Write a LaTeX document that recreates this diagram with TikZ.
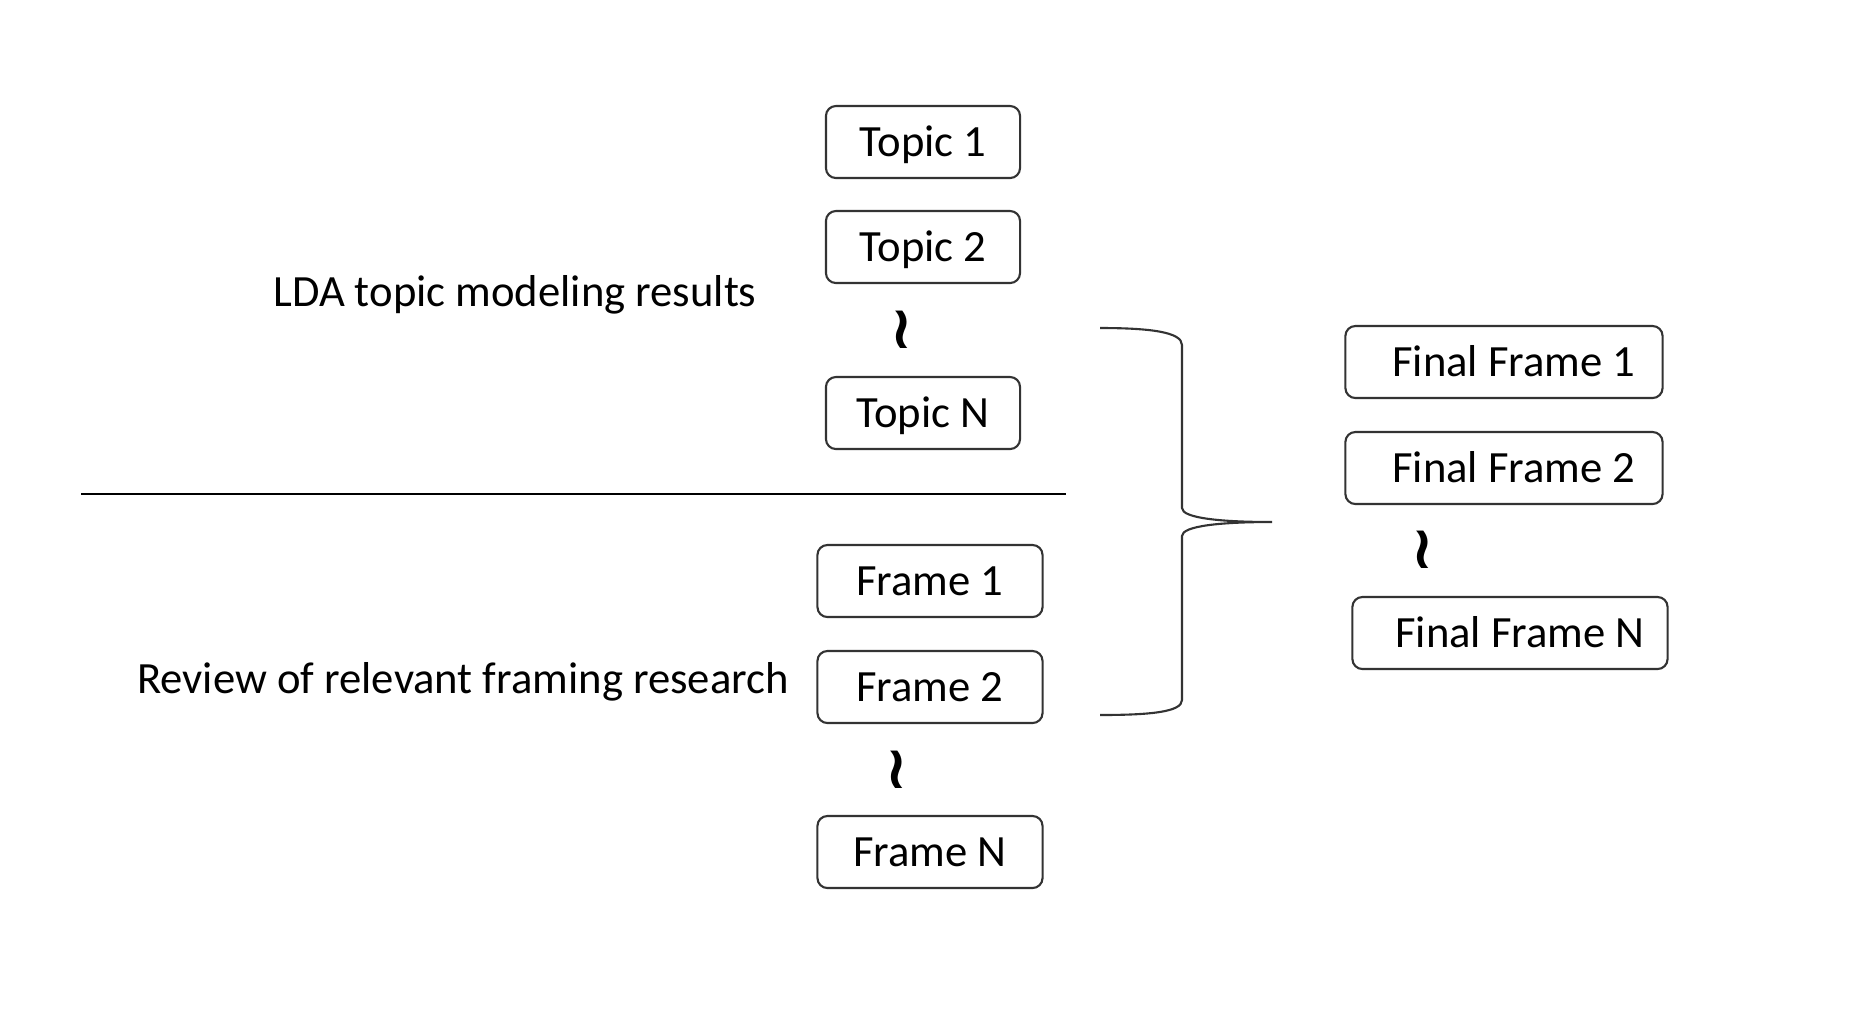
\documentclass[tikz,border=0pt]{standalone}
\usepackage{fontspec}
\setmainfont{Carlito}
\newfontfamily\symfont{DejaVu Sans}
\usepackage{tikz}
\definecolor{boxgray}{rgb}{.2,.2,.2}

\tikzset{
  box/.style = {draw = boxgray, line width = .6pt, rounded corners = 1mm,
                minimum height = .72cm, inner sep = 0pt,
                text height = 8.2pt, text depth = 0pt},
  lbl/.style = {inner sep = 0pt, text height = 8.2pt, text depth = 0pt},
  wreath/.style = {inner sep = 0pt, font = \symfont\bfseries\fontsize{17}{20}\selectfont}
}

\begin{document}
\begin{tikzpicture}[x = .01cm, y = -.01cm,
  every node/.style = {font = \fontsize{12.7}{15}\selectfont}]
\useasboundingbox (0,0) rectangle (1868,1032);

%%%%%%%%%%%%%%% topics %%%%%%%%%%%%%%%%
\foreach \name/\y/\txt in {t1/142/Topic 1, t2/247/Topic 2, tN/413/Topic N}
	\node [box, minimum width = 1.94cm] (\name) at (923,\y) {\txt};
\node [wreath] (twr) at (902,330) {≀};
\node [lbl] (lda) at (515,292) {LDA topic modeling results};

\draw [line width = .6pt] (81,494) -- (1066,494);

%%%%%%%%%%%%%%% frames %%%%%%%%%%%%%%%%
\foreach \name/\y/\txt in {f1/581/Frame 1, f2/687/Frame 2, fN/852/Frame N}
	\node [box, minimum width = 2.25cm] (\name) at (930,\y) {\txt};
\node [wreath] (fwr) at (897,770) {≀};
\node [lbl] (rev) at (463,679) {Review of relevant framing research};

%%%%%%%%%%%%%%% brace %%%%%%%%%%%%%%%%
\draw [line width = .6pt, boxgray]
	(1100,328) .. controls (1150,328) and (1182,332) .. (1182,345) -- (1182,508)
	.. controls (1182,518) and (1220,522) .. (1272,522)
	.. controls (1220,522) and (1182,526) .. (1182,536) -- (1182,700)
	.. controls (1182,712) and (1150,715) .. (1100,715);

%%%%%%%%%%%%%%% final frames %%%%%%%%%%%%%%%%
\node [box, minimum width = 3.17cm] (ff1) at (1504,362) {\hspace{2mm}Final Frame 1};
\node [box, minimum width = 3.17cm] (ff2) at (1504,468) {\hspace{2mm}Final Frame 2};
\node [wreath] (ffwr) at (1423,550) {≀};
\node [box, minimum width = 3.15cm] (ffN) at (1510,633) {\hspace{2mm}Final Frame N};

\end{tikzpicture}
\end{document}
